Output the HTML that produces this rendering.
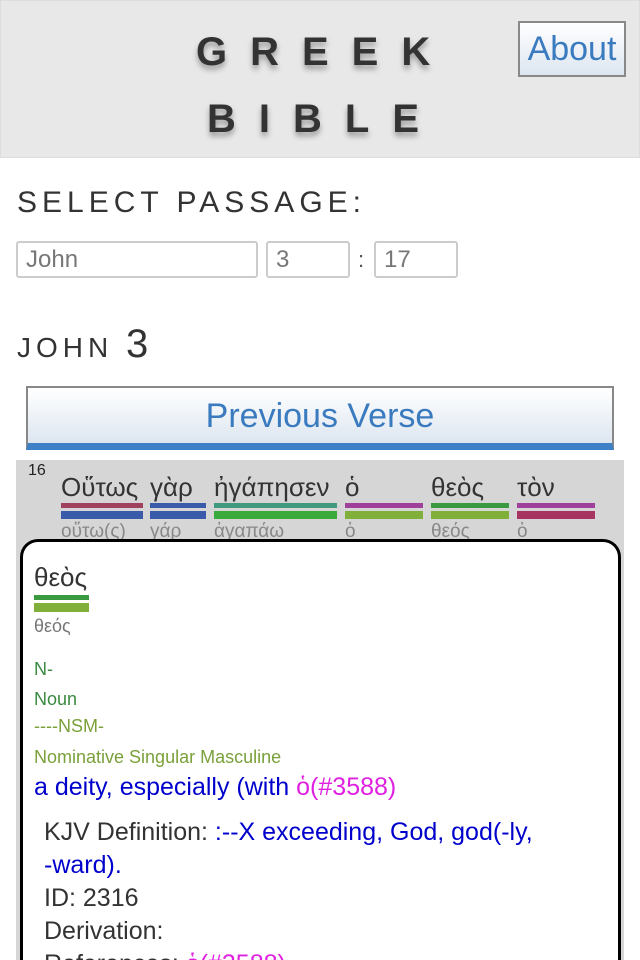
<!DOCTYPE html>
<html style="overflow:hidden"><head><meta charset="utf-8"><style>
body{margin:0;width:640px;height:960px;overflow:hidden;background:#fff;font-family:"Liberation Sans",sans-serif;position:relative}
.a{position:absolute}
.hdr{left:0;top:0;width:638px;height:156px;background:#e8e8e8;border:1px solid #ddd}
.t{font-weight:bold;font-size:40px;color:#333;letter-spacing:23px;text-shadow:0 4px 6px rgba(0,0,0,.35)}
.about{left:518px;top:21px;width:108px;height:56px;border:2px solid #888;box-sizing:border-box;background:linear-gradient(#fff,#dde6f0);color:#3a7abf;font-size:34px;text-align:center;line-height:52px}
.inp{border:2px solid #ccc;border-radius:3px;box-sizing:border-box;height:37px;font-size:24px;color:#777;padding-left:8px;line-height:33px}
.g{font-size:26px;color:#333}
.b1{height:5px;top:503px}
.b2{height:8px;top:511px}
.l{font-size:19px;color:#888;top:521px}
</style></head><body>
<div class="a hdr"></div>
<div class="a t" style="left:196px;top:30px">GREEK</div>
<div class="a t" style="left:207px;top:97px">BIBLE</div>
<div class="a about">About</div>
<div class="a" style="left:17px;top:186px;font-size:30px;letter-spacing:5px;color:#333">SELECT PASSAGE:</div>
<div class="a inp" style="left:16px;top:241px;width:242px">John</div>
<div class="a inp" style="left:266px;top:241px;width:84px">3</div>
<div class="a" style="left:358px;top:247px;font-size:22px;color:#555">:</div>
<div class="a inp" style="left:374px;top:241px;width:84px">17</div>
<div class="a" style="left:17px;top:322px;font-size:28px;letter-spacing:5px;color:#333">JOHN <span style="font-size:40px;letter-spacing:0">3</span></div>
<div class="a" style="left:26px;top:386px;width:588px;height:64px;box-sizing:border-box;border:2px solid #888;border-bottom:7px solid #3e80c6;background:linear-gradient(#fff,#dde6f0);text-align:center;color:#3a7abf;font-size:34px;line-height:56px">Previous Verse</div>
<div class="a" style="left:16px;top:460px;width:608px;height:500px;background:#d6d6d6"></div>
<div class="a" style="left:28px;top:462px;font-size:16px;color:#222">16</div>
<div class="a g" style="left:61px;top:472px">Οὕτως</div><div class="a b1" style="left:61px;width:82px;background:#a0415e"></div><div class="a b2" style="left:61px;width:82px;background:#3a5aaa"></div><div class="a l" style="left:61px">οὕτω(ς)</div>
<div class="a g" style="left:150px;top:472px">γὰρ</div><div class="a b1" style="left:150px;width:56px;background:#3a5aaa"></div><div class="a b2" style="left:150px;width:56px;background:#3a5aaa"></div><div class="a l" style="left:150px">γάρ</div>
<div class="a g" style="left:214px;top:472px">ἠγάπησεν</div><div class="a b1" style="left:214px;width:123px;background:#3f9a80"></div><div class="a b2" style="left:214px;width:123px;background:#3aaa3a"></div><div class="a l" style="left:214px">ἀγαπάω</div>
<div class="a g" style="left:345px;top:472px">ὁ</div><div class="a b1" style="left:345px;width:78px;background:#a0409a"></div><div class="a b2" style="left:345px;width:78px;background:#80b03a"></div><div class="a l" style="left:345px">ὁ</div>
<div class="a g" style="left:431px;top:472px">θεὸς</div><div class="a b1" style="left:431px;width:78px;background:#3a9a40"></div><div class="a b2" style="left:431px;width:78px;background:#80b03a"></div><div class="a l" style="left:431px">θεός</div>
<div class="a g" style="left:517px;top:472px">τὸν</div><div class="a b1" style="left:517px;width:78px;background:#a0409a"></div><div class="a b2" style="left:517px;width:78px;background:#a83560"></div><div class="a l" style="left:517px">ὁ</div>
<div class="a" style="left:20px;top:539px;width:601px;height:421px;box-sizing:border-box;border:3px solid #000;border-bottom:none;border-radius:18px 18px 0 0;background:#fff;overflow:hidden">
<div class="a" style="left:11px;top:20px;font-size:26px;color:#333">θεὸς</div>
<div class="a" style="left:11px;top:53px;width:55px;height:5px;background:#3a9a40"></div>
<div class="a" style="left:11px;top:61px;width:55px;height:9px;background:#80b03a"></div>
<div class="a" style="left:11px;top:74px;font-size:18px;color:#777">θεός</div>
<div class="a" style="left:11px;top:117px;font-size:18px;color:#3a8a40">N-</div>
<div class="a" style="left:11px;top:147px;font-size:18px;color:#3a8a40">Noun</div>
<div class="a" style="left:11px;top:174px;font-size:18px;color:#7aa03a">----NSM-</div>
<div class="a" style="left:11px;top:205px;font-size:18px;color:#7aa03a">Nominative Singular Masculine</div>
<div class="a" style="left:11px;top:231px;font-size:25px;color:#0000cc;white-space:nowrap">a deity, especially (with <span style="color:#e020e0">ὁ(#3588)</span></div>
<div class="a" style="left:21px;top:274px;font-size:25px;color:#333;line-height:33px;width:560px">KJV Definition: <span style="color:#0000cc">:--X exceeding, God, god(-ly, <span style="white-space:nowrap">-ward).</span></span><br>ID: 2316<br>Derivation:<br>References: <span style="color:#e020e0">ὁ(#3588)</span></div>
</div>
</body></html>
